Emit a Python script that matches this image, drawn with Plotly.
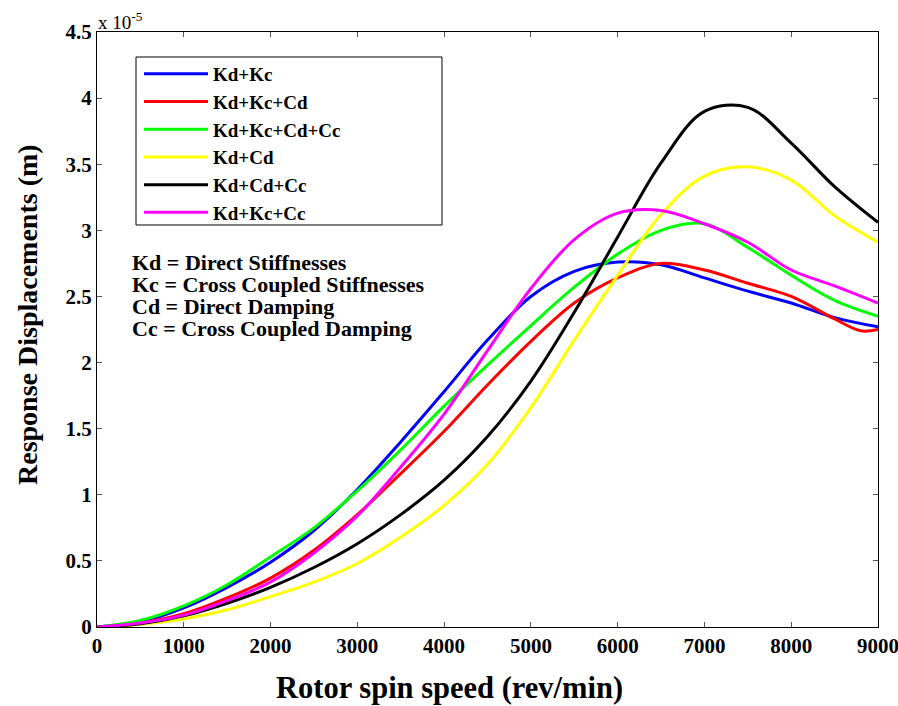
import plotly.graph_objects as go

# Rotor spin speed (rev/min)
speed = [0, 500, 1000, 1500, 2000, 2500, 3000, 3500, 4000, 4500, 5000,
         5500, 6000, 6500, 7000, 7500, 8000, 8500, 9000]
speed_red = [0, 500, 1000, 1500, 2000, 2500, 3000, 3500, 4000, 4500, 5000,
             5500, 6000, 6500, 7000, 7500, 8000, 8500, 8800, 9000]

# Response displacements, in units of 1e-5 m
kd_kc = [0, 0.04, 0.145, 0.30, 0.49, 0.73, 1.04, 1.40, 1.78, 2.17, 2.50,
         2.69, 2.76, 2.74, 2.64, 2.54, 2.45, 2.34, 2.27]
kd_kc_cd = [0, 0.03, 0.10, 0.22, 0.37, 0.58, 0.85, 1.16, 1.48, 1.83, 2.16,
            2.45, 2.64, 2.75, 2.70, 2.60, 2.50, 2.33, 2.24, 2.25]
kd_kc_cd_cc = [0, 0.05, 0.16, 0.32, 0.53, 0.75, 1.03, 1.34, 1.67, 1.98, 2.28,
               2.57, 2.82, 3.00, 3.05, 2.87, 2.66, 2.47, 2.35]
kd_cd = [0, 0.02, 0.06, 0.13, 0.23, 0.34, 0.48, 0.68, 0.92, 1.23, 1.66,
         2.17, 2.66, 3.12, 3.41, 3.48, 3.38, 3.11, 2.91]
kd_cd_cc = [0, 0.025, 0.085, 0.18, 0.30, 0.45, 0.63, 0.85, 1.11, 1.44, 1.86,
            2.38, 2.95, 3.51, 3.90, 3.93, 3.66, 3.33, 3.06]
kd_kc_cc = [0, 0.03, 0.09, 0.20, 0.34, 0.56, 0.84, 1.21, 1.61, 2.09, 2.56,
            2.93, 3.13, 3.15, 3.05, 2.91, 2.70, 2.58, 2.45]

x_ticks = [0, 1000, 2000, 3000, 4000, 5000, 6000, 7000, 8000, 9000]
y_ticks = [0, 0.5, 1, 1.5, 2, 2.5, 3, 3.5, 4, 4.5]
y_tick_text = ["0", "0.5", "1", "1.5", "2", "2.5", "3", "3.5", "4", "4.5"]

series = [
    ("Kd+Kc", speed, kd_kc, "#0000FF"),
    ("Kd+Kc+Cd", speed_red, kd_kc_cd, "#FF0000"),
    ("Kd+Kc+Cd+Cc", speed, kd_kc_cd_cc, "#00FF00"),
    ("Kd+Cd", speed, kd_cd, "#FFFF00"),
    ("Kd+Cd+Cc", speed, kd_cd_cc, "#000000"),
    ("Kd+Kc+Cc", speed, kd_kc_cc, "#FF00FF"),
]

notes = [
    "Kd = Direct Stiffnesses",
    "Kc = Cross Coupled Stiffnesses",
    "Cd = Direct Damping",
    "Cc = Cross Coupled Damping",
]

FONT = "Liberation Serif"

fig = go.Figure()
for name, xs, ys, color in series:
    fig.add_trace(go.Scatter(
        x=xs, y=ys, name=name, mode="lines", legendgroup=name,
        line=dict(color=color, width=3, shape="spline", smoothing=1.0),
    ))

W, H = 898, 706
L, R, T, B = 97, 20, 32, 79
pw, ph = W - L - R, H - T - B


def px(xp):
    return (xp - L) / pw


def py(yp):
    return (H - B - yp) / ph


axis_common = dict(
    showline=True, linecolor="black", linewidth=1, mirror="allticks",
    ticks="inside", ticklen=5, tickcolor="#555", showgrid=False, zeroline=False,
    automargin=False, ticklabeloverflow="allow",
    tickfont=dict(family=FONT, size=21, color="black", weight="bold"),
)

fig.update_layout(
    width=W, height=H,
    margin=dict(l=L, r=R, t=T, b=B),
    paper_bgcolor="white", plot_bgcolor="white",
    font=dict(family=FONT, color="black"),
    xaxis=dict(range=[0, 9000], tickvals=x_ticks, **axis_common),
    yaxis=dict(range=[0, 4.5], tickvals=y_ticks, ticktext=y_tick_text,
               **axis_common),
    showlegend=True,
    legend=dict(
        x=px(139), y=py(55), xanchor="left", yanchor="top",
        bgcolor="rgba(0,0,0,0)", borderwidth=0,
        font=dict(family=FONT, size=19, color="black", weight="bold"),
        itemwidth=64, tracegroupgap=0,
    ),
)

# axis titles
fig.add_annotation(
    xref="paper", yref="paper", x=px(449), y=py(688),
    xanchor="center", yanchor="middle", showarrow=False,
    text="<b>Rotor spin speed (rev/min)</b>",
    font=dict(family=FONT, size=30.5, color="black"),
)
fig.add_annotation(
    xref="paper", yref="paper", x=px(27), y=py(315),
    xanchor="center", yanchor="middle", showarrow=False, textangle=-90,
    text="<b>Response Displacements (m)</b>",
    font=dict(family=FONT, size=28, color="black"),
)

# legend frame
fig.add_shape(type="rect", xref="paper", yref="paper",
              x0=px(136), x1=px(442), y0=py(225), y1=py(57),
              line=dict(color="black", width=1), fillcolor="rgba(0,0,0,0)")

# key to the abbreviations
for i, line in enumerate(notes):
    fig.add_annotation(
        xref="paper", yref="paper", x=px(131), y=py(262 + 22 * i),
        xanchor="left", yanchor="middle", showarrow=False, borderpad=0,
        text="<b>" + line + "</b>",
        font=dict(family=FONT, size=22, color="black"),
    )

# axis multiplier
fig.add_annotation(
    xref="paper", yref="paper", x=0, y=1, xanchor="left", yanchor="bottom",
    xshift=-1, yshift=-3, showarrow=False,
    text="x 10<sup>-5</sup>", font=dict(family=FONT, size=19, color="black"),
)

fig.write_html("out.html")
